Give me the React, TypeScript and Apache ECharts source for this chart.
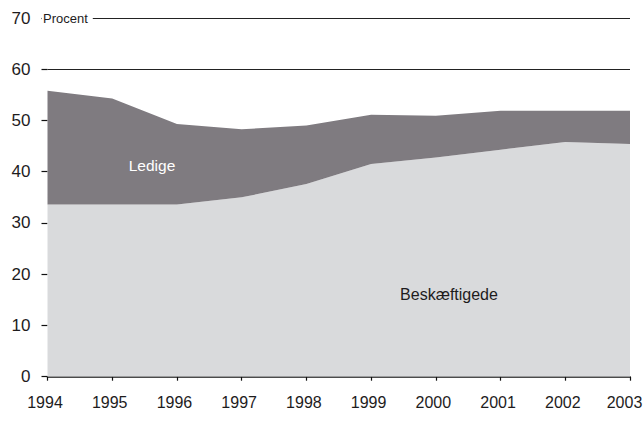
import React, { useEffect, useRef } from "react";
import * as echarts from "echarts";

const years = ["1994", "1995", "1996", "1997", "1998", "1999", "2000", "2001", "2002", "2003"];
const beskaeftigede = [33.6, 33.6, 33.6, 35.0, 37.6, 41.5, 42.8, 44.3, 45.8, 45.4];
const total = [55.8, 54.3, 49.3, 48.3, 49.0, 51.1, 50.9, 51.9, 51.9, 51.9];
const ledige = total.map((t, i) => +(t - beskaeftigede[i]).toFixed(2));
const yTicks = [0, 10, 20, 30, 40, 50, 60, 70];

const FONT = "'Liberation Sans', Arial, Helvetica, sans-serif";
const TEXT = "#1e1c1d";

export default function App() {
  const ref = useRef<HTMLDivElement>(null);
  useEffect(() => {
    if (!ref.current) return;
    const chart = echarts.init(ref.current, undefined, { renderer: "svg" });
    const splitColors = yTicks.map((v) => (v >= 60 ? "#222" : "rgba(0,0,0,0)"));
    const xData = years.map((y, i) =>
      i === years.length - 1 ? { value: y, textStyle: { padding: [0, 11, 0, 0] } } : y
    );
    chart.setOption({
      animation: false,
      grid: {
        left: 47.5,
        right: 14,
        top: 18,
        bottom: 46.3,
        containLabel: false,
        outerBoundsMode: "none",
      },
      xAxis: {
        type: "category",
        data: xData,
        boundaryGap: false,
        axisLine: { show: true, lineStyle: { color: "#111", width: 1.5 } },
        axisTick: { show: true, length: 4, lineStyle: { color: "#111", width: 1.2 } },
        axisLabel: {
          color: TEXT,
          fontSize: 16,
          fontFamily: FONT,
          margin: 18,
          padding: [0, 5, 0, 0],
          hideOverlap: false,
        },
        splitLine: { show: false },
      },
      yAxis: {
        type: "value",
        min: 0,
        max: 70,
        interval: 10,
        axisLine: { show: false },
        axisTick: { show: true, length: 6, lineStyle: { color: "#111", width: 1.2 } },
        axisLabel: { color: TEXT, fontSize: 17, fontFamily: FONT, margin: 17 },
        splitLine: { show: true, lineStyle: { color: splitColors, width: 1.2 } },
      },
      series: [
        {
          name: "Beskæftigede",
          type: "line",
          stack: "a",
          data: beskaeftigede,
          symbol: "none",
          lineStyle: { width: 0 },
          areaStyle: { color: "#d9dadc", opacity: 1 },
          z: 2,
        },
        {
          name: "Ledige",
          type: "line",
          stack: "a",
          data: ledige,
          symbol: "none",
          lineStyle: { width: 0 },
          areaStyle: { color: "#7f7b80", opacity: 1 },
          z: 2,
        },
      ],
      graphic: [
        {
          type: "text",
          left: 42,
          top: 10,
          z: 100,
          style: {
            text: "Procent",
            font: `13px ${FONT}`,
            fill: TEXT,
            backgroundColor: "#fff",
            padding: [2, 5, 2, 1],
          },
        },
        {
          type: "text",
          x: 152,
          y: 165,
          z: 100,
          style: {
            text: "Ledige",
            font: `15.5px ${FONT}`,
            fill: "#fff",
            align: "center",
            verticalAlign: "middle",
          },
        },
        {
          type: "text",
          x: 449,
          y: 294,
          z: 100,
          style: {
            text: "Beskæftigede",
            font: `16px ${FONT}`,
            fill: TEXT,
            align: "center",
            verticalAlign: "middle",
          },
        },
      ],
    });
    return () => chart.dispose();
  }, []);
  return <div ref={ref} style={{ width: 644, height: 423, position: "absolute", left: 0, top: 0 }} />;
}
